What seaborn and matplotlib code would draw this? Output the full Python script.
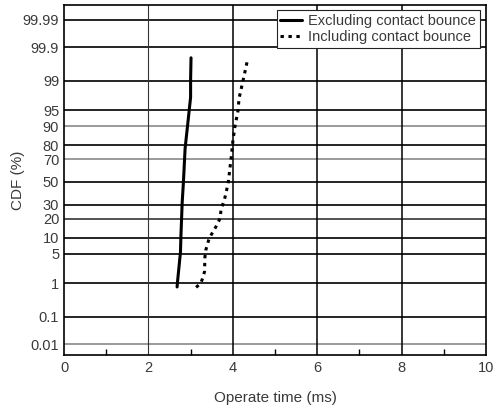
import numpy as np
import pandas as pd
import matplotlib
matplotlib.use("Agg")
import matplotlib.pyplot as plt
import seaborn as sns
from statistics import NormalDist

# ---- data ----
excl_time = [2.68, 2.69, 2.76, 2.77, 2.80, 2.83, 2.87, 2.93, 3.00, 3.00, 3.01]
excl_cdf = [0.8, 1.1, 5.4, 10.4, 31.5, 50.0, 78.0, 90.5, 97.4, 99.04, 99.78]

incl_time = [3.13, 3.24, 3.30, 3.33, 3.34, 3.36, 3.44, 3.60, 3.70, 3.72, 3.81,
             3.89, 3.96, 4.00, 4.05, 4.12, 4.15, 4.25, 4.35]
incl_cdf = [0.78, 1.0, 1.5, 2.0, 4.3, 5.9, 9.8, 15.2, 20.2, 26.0, 35.5,
            48.8, 70.6, 82.2, 89.8, 94.7, 97.3, 99.08, 99.75]

series_names = ["Excluding contact bounce", "Including contact bounce"]
y_ticks = [0.01, 0.1, 1, 5, 10, 20, 30, 50, 70, 80, 90, 95, 99, 99.9, 99.99]
y_tick_labels = ["0.01", "0.1", "1", "5", "10", "20", "30", "50", "70", "80",
                 "90", "95", "99", "99.9", "99.99"]
x_ticks = [0, 2, 4, 6, 8, 10]

df = pd.concat([
    pd.DataFrame({"time": excl_time, "cdf": excl_cdf, "series": series_names[0]}),
    pd.DataFrame({"time": incl_time, "cdf": incl_cdf, "series": series_names[1]}),
], ignore_index=True)

_nd = NormalDist()
_ppf = np.vectorize(_nd.inv_cdf, otypes=[float])
_cdf = np.vectorize(_nd.cdf, otypes=[float])

def fwd(p):
    p = np.asarray(p, dtype=float)
    if p.size == 0:
        return p
    q = np.clip(p / 100.0, 1e-9, 1 - 1e-9)
    return _ppf(q)

def inv(z):
    z = np.asarray(z, dtype=float)
    if z.size == 0:
        return z
    return _cdf(z) * 100.0

sns.set_theme(style="white")
plt.rcParams["font.family"] = ["Liberation Sans", "DejaVu Sans"]

TXT = "#3a3a3a"

fig = plt.figure(figsize=(4.94, 4.09), dpi=100)
ax = fig.add_axes([64 / 494, 1 - 355 / 409, (486 - 64) / 494, (355 - 5) / 409])
ax.set_yscale("function", functions=(fwd, inv))

# grid lines
for t in y_ticks:
    if t in (90, 70, 0.01):
        ax.axhline(t, color="#9a9a9a", lw=1.4, zorder=1)
    elif t == 20:
        ax.axhline(t, color="#444444", lw=1.3, zorder=1)
    else:
        ax.axhline(t, color="black", lw=1.2, zorder=1)
ax.axvline(2, color="#333333", lw=0.8, zorder=1)
for xv in (4, 6, 8):
    ax.axvline(xv, color="black", lw=1.1, zorder=1)

sns.lineplot(data=df, x="time", y="cdf", hue="series", style="series",
             palette=["black", "black"],
             dashes={series_names[0]: "", series_names[1]: (1.1, 1.5)},
             sort=False, estimator=None, lw=2.2, ax=ax, zorder=3)

ax.set_xlim(0, 10)
ax.set_ylim(float(inv(-3.97)), float(inv(4.06)))
ax.set_yticks(y_ticks)
ax.set_yticklabels(y_tick_labels)
ax.set_xticks(x_ticks)
ax.set_xticks([1, 3, 5, 7, 9], minor=True)
ax.yaxis.set_minor_locator(matplotlib.ticker.NullLocator())
ax.tick_params(axis="both", which="major", length=0, labelsize=10.5,
               labelcolor=TXT)
ax.tick_params(axis="y", which="major", pad=3.5)
ax.tick_params(axis="x", which="major", pad=4)
ax.tick_params(axis="x", which="minor", direction="in", length=4,
               width=1, color="black", bottom=True)
for s in ax.spines.values():
    s.set_color("black")
    s.set_linewidth(1.2)

ax.set_xlabel("Operate time (ms)", fontsize=11, color=TXT, labelpad=12)
ax.set_ylabel("CDF (%)", fontsize=11, color=TXT)
ax.yaxis.set_label_coords(-0.092, 0.5)

leg = ax.legend(loc="upper right", bbox_to_anchor=(0.995, 0.998), frameon=True,
                fontsize=10.5, handlelength=1.5, handletextpad=0.4,
                borderpad=0.25, labelspacing=0.15, fancybox=False,
                borderaxespad=0.3)
leg.get_frame().set_edgecolor("#222222")
leg.get_frame().set_linewidth(0.8)
leg.get_frame().set_alpha(1)
for txt in leg.get_texts():
    txt.set_color(TXT)
for h in leg.get_lines():
    h.set_linewidth(2.2)

fig.savefig("out.png", dpi=100, facecolor="white")
